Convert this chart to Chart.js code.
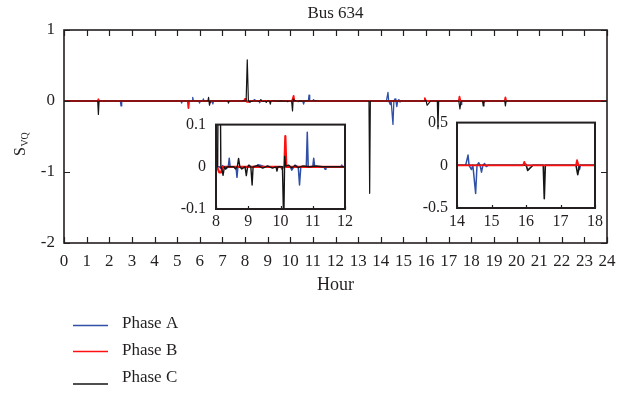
<!DOCTYPE html>
<html><head><meta charset="utf-8">
<script src="https://cdn.jsdelivr.net/npm/chart.js@4"></script>
<style>
html,body{margin:0;padding:0;background:#fff;}
#wrap{position:relative;width:627px;height:394px;overflow:hidden;}
canvas{position:absolute;}
</style></head><body>
<div id="wrap">
<canvas id="main" width="627" height="394" style="left:0;top:0"></canvas>
<canvas id="in1" width="190" height="130" style="left:166px;top:105px"></canvas>
<canvas id="in2" width="200" height="130" style="left:407px;top:104px"></canvas>
</div>
<script>
// ---------- data ----------
const chartTitle = 'Bus 634';
const xTitle = 'Hour';
const seriesNames = ['Phase A', 'Phase B', 'Phase C'];
const seriesColors = ['#3050a8', '#ff1010', '#151515'];

const mainXTicks = [0,1,2,3,4,5,6,7,8,9,10,11,12,13,14,15,16,17,18,19,20,21,22,23,24];
const mainYTicks = [-2, -1, 0, 1];
const inset1XTicks = [8, 9, 10, 11, 12];
const inset1YTicks = [-0.1, 0, 0.1];
const inset2XTicks = [14, 15, 16, 17, 18];
const inset2YTicks = [-0.5, 0, 0.5];

const phaseAHours  = [0, 2.49, 2.52, 2.55, 5.17, 5.2, 5.23, 5.66, 5.69, 5.72, 5.96, 5.99, 6.02, 6.13, 6.16, 6.19, 6.55, 6.58, 6.61,
  8.1, 8.15, 8.2, 8.3, 8.38, 8.41, 8.44, 8.62, 8.65, 8.68, 9.25, 9.3, 9.4, 9.5,
  10.3, 10.35, 10.45, 10.55, 10.59, 10.63, 10.8, 10.83, 10.86, 11.0, 11.03, 11.06, 11.35, 11.38, 11.41, 11.87, 11.9, 11.93,
  14.25, 14.32, 14.35, 14.42, 14.46, 14.54, 14.58, 14.63, 14.67, 14.71, 14.75, 14.8, 14.85, 14.9,
  17.52, 17.55, 17.58, 24];
const phaseAValues = [0, 0, -0.07, 0, 0, -0.03, 0, 0, 0.05, 0, 0, -0.03, 0, 0, 0.03, 0, 0, -0.04, 0,
  0, -0.004, 0.003, -0.005, 0, 0.02, 0, 0, -0.025, 0, 0, 0.005, 0.003, 0,
  0, -0.008, 0.004, 0, -0.043, 0, 0, 0.082, 0, 0, 0.02, 0, 0, -0.006, 0, 0, 0.004, 0,
  0, 0.12, 0, -0.05, 0, -0.33, 0, 0.03, 0, -0.08, 0, 0.02, -0.015, 0,
  0, -0.05, 0, 0];

const phaseBHours  = [0, 1.49, 1.52, 1.55, 5.47, 5.5, 5.53, 6.45, 6.48, 6.51,
  7.98, 8.0, 8.03, 8.1, 8.16, 8.2, 10.02, 10.05, 10.08, 10.12, 10.15, 10.18,
  15.92, 15.95, 15.99, 17.45, 17.48, 17.52, 18.5, 18.53, 18.56, 19.48, 19.51, 19.54, 24];
const phaseBValues = [0, 0, 0.025, 0, 0, -0.1, 0, 0, -0.02, 0,
  0, 0.03, 0, -0.013, -0.013, 0, 0, -0.005, 0, 0, 0.073, 0,
  0, 0.04, 0, 0, 0.06, 0, 0, -0.02, 0, 0, 0.05, 0, 0];

const phaseCHours  = [0, 1.49, 1.52, 1.55, 6.36, 6.39, 6.43, 6.47, 7.24, 7.27, 7.3, 7.9, 7.93, 7.96,
  8.05, 8.1, 8.15, 8.18, 8.22, 8.26, 8.3, 8.35, 8.55, 8.6, 8.66, 8.7, 8.74, 8.8, 8.9, 8.94, 8.98, 9.02, 9.08, 9.12, 9.15,
  9.3, 9.45, 9.6, 9.75, 9.86, 9.89, 9.92, 10.06, 10.1, 10.13, 10.16, 10.25, 10.35, 10.45, 10.55, 10.7, 10.9, 11.1, 11.3,
  13.48, 13.51, 13.54, 15.93, 16.0, 16.05, 16.2, 16.5, 16.53, 16.56, 17.45, 17.5, 17.55,
  18.5, 18.53, 18.56, 19.48, 19.51, 19.54, 24];
const phaseCValues = [0, 0, -0.19, 0, 0, 0.05, -0.06, 0, 0, -0.03, 0, 0, 0.01, 0,
  0, 0.58, 0, -0.005, -0.02, 0, -0.005, 0, 0, -0.005, 0, 0.02, 0, -0.005, 0, -0.021, 0, 0.004, 0, -0.043, 0,
  0.003, -0.003, 0.002, -0.003, 0, -0.01, 0, 0, -0.14, 0.025, 0.002, 0.004, -0.003, 0.003, -0.002, 0.002, 0, 0.002, 0,
  0, -1.3, 0, 0, 0.01, -0.06, 0, 0, -0.39, 0, 0, -0.11, 0,
  0, -0.07, 0, 0, -0.07, 0, 0];

// ---------- helpers ----------
const FONT = '"Liberation Serif", "Times New Roman", serif';
const TXT = '#231f20';
Chart.defaults.font.family = FONT;
Chart.defaults.color = TXT;

function pts(h, v) { return h.map((x, i) => ({x: x, y: v[i]})); }
const seriesPts = [pts(phaseAHours, phaseAValues), pts(phaseBHours, phaseBValues), pts(phaseCHours, phaseCValues)];

// drawOrder: first index drawn at the bottom, last on top
function makeDatasets(drawOrder, widths) {
  return drawOrder.map((i, k) => ({
    label: seriesNames[i], data: seriesPts[i], showLine: true, pointRadius: 0,
    borderColor: seriesColors[i], borderWidth: widths[i], fill: false, tension: 0,
    borderJoinStyle: 'round', borderCapStyle: 'round',
    order: drawOrder.length - k
  }));
}

function boxAndTicks(opts) {
  return {
    id: 'boxTicks',
    afterDraw(chart) {
      const ctx = chart.ctx, a = chart.chartArea, sx = chart.scales.x, sy = chart.scales.y;
      ctx.save();
      ctx.strokeStyle = TXT;
      const L = opts.len;
      ctx.beginPath();
      sx.ticks.forEach(t => {
        const px = Math.round(sx.getPixelForValue(t.value)) + 0.5;
        if (opts.bottom) { ctx.moveTo(px, a.bottom); ctx.lineTo(px, a.bottom - L); }
        if (opts.top) { ctx.moveTo(px, a.top); ctx.lineTo(px, a.top + L); }
      });
      sy.ticks.forEach(t => {
        const py = Math.round(sy.getPixelForValue(t.value)) + 0.5;
        if (opts.left) { ctx.moveTo(a.left, py); ctx.lineTo(a.left + L, py); }
        if (opts.right) { ctx.moveTo(a.right, py); ctx.lineTo(a.right - L, py); }
      });
      ctx.lineWidth = 1.2;
      ctx.stroke();
      ctx.lineWidth = opts.lw;
      ctx.strokeRect(a.left, a.top, a.right - a.left, a.bottom - a.top);
      ctx.restore();
    }
  };
}

function scalesFor(xmin, xmax, xt, ymin, ymax, yt, yw, xh, fs, ypad, xpad) {
  return {
    x: { type: 'linear', min: xmin, max: xmax,
         afterBuildTicks: s => { s.ticks = xt.map(v => ({value: v})); },
         afterFit: s => { s.height = xh; },
         grid: { display: false, drawTicks: false }, border: { display: false },
         ticks: { autoSkip: false, maxRotation: 0, padding: xpad, color: TXT, font: { size: fs, family: FONT }, callback: v => String(v) } },
    y: { type: 'linear', min: ymin, max: ymax,
         afterBuildTicks: s => { s.ticks = yt.map(v => ({value: v})); },
         afterFit: s => { s.width = yw; },
         grid: { display: false, drawTicks: false }, border: { display: false },
         ticks: { padding: ypad, color: TXT, font: { size: fs, family: FONT }, callback: v => String(v) } }
  };
}

const textPlugin = {
  id: 'texts',
  afterDraw(chart) {
    const ctx = chart.ctx, a = chart.chartArea;
    const cx = (a.left + a.right) / 2;
    ctx.save();
    ctx.fillStyle = TXT;
    ctx.textAlign = 'center'; ctx.textBaseline = 'middle';
    ctx.font = '17px ' + FONT;
    ctx.fillText(chartTitle, cx, 14);
    ctx.font = '18px ' + FONT;
    ctx.fillText(xTitle, cx, 285);
    // y-axis title S_VQ
    ctx.save();
    ctx.translate(25, 156);
    ctx.rotate(-Math.PI / 2);
    ctx.textAlign = 'left'; ctx.textBaseline = 'alphabetic';
    ctx.font = '16px ' + FONT;
    ctx.fillText('S', 0, 0);
    const w = ctx.measureText('S').width;
    ctx.font = '10px ' + FONT;
    ctx.fillText('VQ', w + 0.5, 3);
    ctx.restore();
    // legend
    const rows = [{ly: 325.5, ty: 324}, {ly: 351.5, ty: 351}, {ly: 384, ty: 377.5}];
    ctx.textAlign = 'left';
    ctx.font = '17px ' + FONT;
    rows.forEach((r, i) => {
      ctx.strokeStyle = seriesColors[i]; ctx.lineWidth = 1.5;
      ctx.beginPath(); ctx.moveTo(73, r.ly); ctx.lineTo(108, r.ly); ctx.stroke();
      ctx.fillText(seriesNames[i], 122, r.ty);
    });
    ctx.restore();
  }
};

// ---------- main chart ----------
new Chart(document.getElementById('main'), {
  type: 'scatter',
  data: { datasets: makeDatasets([0, 1, 2], [1.3, 1.8, 1.2]) },
  options: {
    responsive: false, animation: false,
    layout: { padding: { top: 30, right: 20, left: 0, bottom: 0 } },
    plugins: { legend: { display: false }, tooltip: { enabled: false } },
    scales: scalesFor(0, 24, mainXTicks, -2, 1, mainYTicks, 64, 151, 17, 9, 8)
  },
  plugins: [boxAndTicks({lw: 1.6, len: 6, top: true, bottom: true, left: true, right: true}), textPlugin]
});

// ---------- inset 1 (8-12 h) ----------
new Chart(document.getElementById('in1'), {
  type: 'scatter',
  data: { datasets: makeDatasets([0, 1, 2], [1.5, 2.2, 1.4]) },
  options: {
    responsive: false, animation: false,
    layout: { padding: { top: 15, right: 9, left: 0, bottom: 0 } },
    plugins: { legend: { display: false }, tooltip: { enabled: false } },
    scales: scalesFor(8, 12, inset1XTicks, -0.1, 0.1, inset1YTicks, 50, 26, 16, 10, 3)
  },
  plugins: [boxAndTicks({lw: 2, len: 3, top: false, bottom: true, left: false, right: false})]
});

// ---------- inset 2 (14-18 h) ----------
new Chart(document.getElementById('in2'), {
  type: 'scatter',
  data: { datasets: makeDatasets([0, 2, 1], [1.5, 1.8, 1.6]) },
  options: {
    responsive: false, animation: false,
    layout: { padding: { top: 15, right: 12, left: 0, bottom: 0 } },
    plugins: { legend: { display: false }, tooltip: { enabled: false } },
    scales: scalesFor(14, 18, inset2XTicks, -0.5, 0.5, inset2YTicks, 50, 26, 16, 9, 4)
  },
  plugins: [boxAndTicks({lw: 2, len: 3, top: false, bottom: true, left: false, right: false})]
});
</script>
</body></html>
